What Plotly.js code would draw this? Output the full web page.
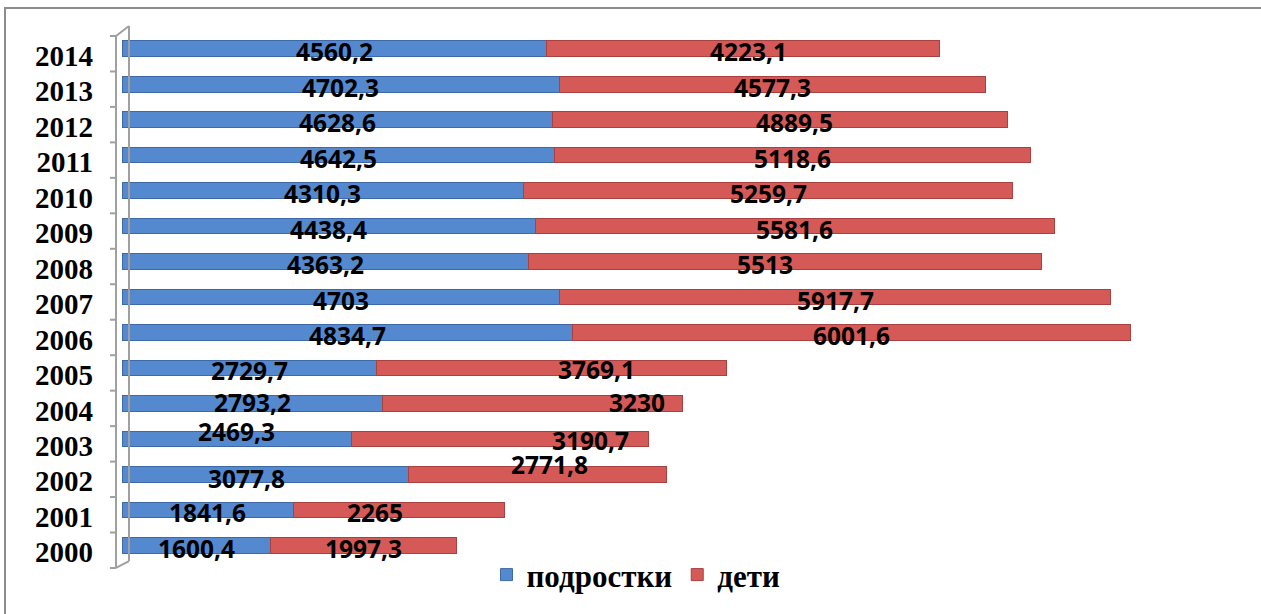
<!DOCTYPE html>
<html>
<head>
<meta charset="utf-8">
<script src="https://cdn.plot.ly/plotly-3.0.1.min.js"></script>
<style>
  html, body { margin: 0; padding: 0; background: #fff; }
  #chart { width: 1261px; height: 614px; }
</style>
</head>
<body>
<div id="chart"></div>
<script>
// Years, bottom to top
const years = ['2000','2001','2002','2003','2004','2005','2006','2007','2008','2009','2010','2011','2012','2013','2014'];
// Teenagers
const teens = [1600.4, 1841.6, 3077.8, 2469.3, 2793.2, 2729.7, 4834.7, 4703, 4363.2, 4438.4, 4310.3, 4642.5, 4628.6, 4702.3, 4560.2];
// Children
const kids = [1997.3, 2265, 2771.8, 3190.7, 3230, 3769.1, 6001.6, 5917.7, 5513, 5581.6, 5259.7, 5118.6, 4889.5, 4577.3, 4223.1];
const seriesNames = ['подростки', 'дети'];

// Hand-placed label nudges in pixels [dx, dy(down)], per year, per series
const teenNudge = [[0,3],[0,3],[-19,4],[0,-7],[0,-1],[0,3],[0,3],[0,3],[0,3],[0,3],[0,3],[0,3],[0,3],[0,3],[0,3]];
const kidNudge  = [[0,3],[-24,3],[12,-10],[90,2],[105,-1],[45,2],[0,3],[0,3],[-20,3],[0,3],[0,3],[0,3],[14,3],[0,3],[5,3]];

const W = 1261, H = 614;
const L = 122, R = 1239, T = 31, B = 565;
const xp = px => (px - L) / (R - L);
const yp = py => (B - py) / (B - T);

const fmt = v => String(v).replace('.', ',');

const blue = '#5589cf', red = '#d55a57';

const traces = [
  {
    type: 'bar', orientation: 'h', name: seriesNames[0],
    y: years, x: teens,
    marker: { color: blue, line: { color: '#3d6aa6', width: 1 } },
    hoverinfo: 'x+y'
  },
  {
    type: 'bar', orientation: 'h', name: seriesNames[1],
    y: years, x: kids,
    marker: { color: red, line: { color: '#a84240', width: 1 } },
    hoverinfo: 'x+y'
  }
];

const labelFont = { family: 'Open Sans, sans-serif', size: 24.5, color: '#000', weight: 700 };
const annotations = [];
years.forEach((yr, i) => {
  // category index i is the row of this year
  annotations.push({
    x: teens[i] / 2, y: i, xref: 'x', yref: 'y',
    text: '<b>' + fmt(teens[i]) + '</b>', showarrow: false, font: labelFont,
    xshift: teenNudge[i][0], yshift: -teenNudge[i][1]
  });
  annotations.push({
    x: teens[i] + kids[i] / 2, y: i, xref: 'x', yref: 'y',
    text: '<b>' + fmt(kids[i]) + '</b>', showarrow: false, font: labelFont,
    xshift: kidNudge[i][0], yshift: -kidNudge[i][1]
  });
});

// Axis wall: front line with ticks, back line and the two joining diagonals
const grey = '#a0a0a0';
const shapes = [];
const seg = (x0, y0, x1, y1, color, width) => shapes.push({
  type: 'line', xref: 'paper', yref: 'paper',
  x0: xp(x0), y0: yp(y0), x1: xp(x1), y1: yp(y1),
  line: { color: color, width: width }
});
seg(116, 36, 116, 570, grey, 2);
seg(129, 26, 129, 563, grey, 2);
seg(116, 36, 129, 26, grey, 2);
seg(116, 570, 129, 563, grey, 2);
for (let k = 0; k <= years.length; k++) {
  const py = 36 + k * (570 - 36) / years.length;
  seg(110, py, 116, py, grey, 2);
}
// Outer chart border
shapes.push({
  type: 'rect', xref: 'paper', yref: 'paper',
  x0: xp(5), y0: yp(8), x1: xp(1275), y1: yp(630),
  line: { color: '#8c8c8c', width: 2 }, layer: 'below'
});

const layout = {
  width: W, height: H,
  margin: { l: L, r: W - R, t: T, b: H - B },
  paper_bgcolor: '#fff', plot_bgcolor: 'rgba(0,0,0,0)',
  barmode: 'stack', bargap: 0.56,
  showlegend: true,
  legend: {
    orientation: 'h', x: xp(636), xanchor: 'center', y: yp(577), yanchor: 'middle',
    font: { family: 'Liberation Serif, serif', size: 31, color: '#000', weight: 700 },
    traceorder: 'normal', itemwidth: 30
  },
  xaxis: { range: [0, 12000], visible: false, fixedrange: true },
  yaxis: {
    type: 'category', range: [-0.5, years.length - 0.5], autorange: false,
    showline: false, showgrid: false, zeroline: false, ticks: '',
    tickfont: { family: 'Liberation Serif, serif', size: 29, color: '#000', weight: 700 },
    ticklabelstandoff: 28, ticklabelshift: 7, fixedrange: true
  },
  annotations: annotations,
  shapes: shapes
};

Plotly.newPlot('chart', traces, layout, { displayModeBar: false, staticPlot: true });
</script>
</body>
</html>
